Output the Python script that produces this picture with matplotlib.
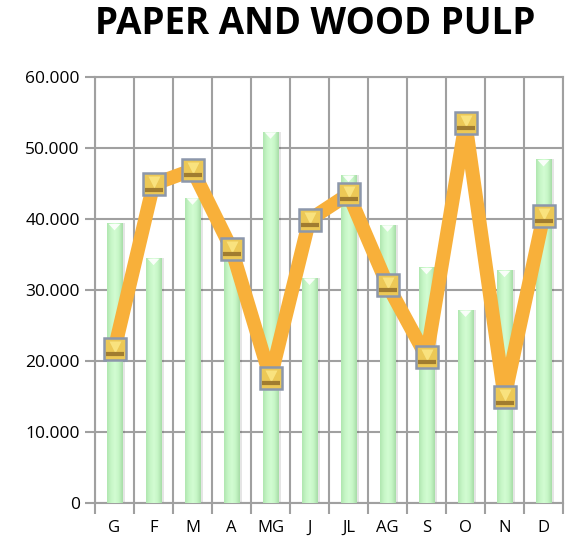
import numpy as np
import matplotlib
matplotlib.use("Agg")
import matplotlib.pyplot as plt
from matplotlib.ticker import FuncFormatter, FixedLocator
from matplotlib.colors import LinearSegmentedColormap

categories = ["G", "F", "M", "A", "MG", "J", "JL", "AG", "S", "O", "N", "D"]
bar_values = [39.4, 34.5, 43.0, 35.0, 52.3, 31.7, 46.2, 39.2, 33.2, 27.2, 32.8, 48.4]
line_values = [21.7, 44.9, 46.9, 35.8, 17.6, 39.9, 43.5, 30.7, 20.6, 53.5, 14.9, 40.4]
y_ticks = [0, 10, 20, 30, 40, 50, 60]

plt.rcParams['font.family'] = ['Open Sans', 'DejaVu Sans']

fig = plt.figure(figsize=(5.68, 5.42), dpi=100)
ax = fig.add_axes([95/568, 39/542, 468/568, 426/542])

x = np.arange(len(categories))
grid_c = "#a0a0a0"

# shadows
ax.bar(x + 0.07, bar_values, width=0.42, color="#000000", alpha=0.10, zorder=2)
bars = ax.bar(x, bar_values, width=0.40, color="#c8f7c8", edgecolor="#a8d8a8",
              linewidth=0.6, zorder=3)
cmap = LinearSegmentedColormap.from_list("g", ["#b0e6b0", "#c6f6c6", "#d2fcd2", "#c6f6c6", "#a6dca6"])
grad = np.linspace(0, 1, 64).reshape(1, -1)
for b in bars:
    x0, w, h = b.get_x(), b.get_width(), b.get_height()
    im = ax.imshow(grad, extent=[x0, x0 + w, 0, h], aspect="auto", cmap=cmap,
                   zorder=3.5, interpolation="bicubic")
    im.set_clip_path(b)
    ax.fill([x0 + 0.05, x0 + w - 0.05, x0 + w / 2], [h - 0.1, h - 0.1, h - 1.0],
            color="white", alpha=0.9, zorder=3.6, linewidth=0)

ax.plot(x, line_values, color="#f8b03a", linewidth=10, solid_joinstyle="round",
        solid_capstyle="round", zorder=4)
ax.plot(x, line_values, linestyle="none", marker="s", markersize=16,
        markerfacecolor="#ecc856", markeredgecolor="#8c97ab", markeredgewidth=1.8, zorder=5)
ax.plot(x, np.array(line_values) + 0.25, linestyle="none", marker="v", markersize=9,
        markerfacecolor="#f9e27e", markeredgecolor="none", zorder=6)
ax.plot(x, np.array(line_values) - 0.75, linestyle="none", marker="_", markersize=13,
        markeredgecolor="#a07c30", markeredgewidth=3, zorder=6)

ax.set_xlim(-0.5, len(categories) - 0.5)
ax.set_ylim(0, 60)
ax.yaxis.set_major_locator(FixedLocator(y_ticks))
ax.yaxis.set_major_formatter(FuncFormatter(lambda v, p: "0" if v == 0 else f"{int(v)}.000"))
ax.set_xticks(x)
ax.set_xticklabels(categories)
ax.set_xticks(np.arange(-0.5, len(categories)), minor=True)
ax.tick_params(axis="x", which="major", length=0, pad=12, labelsize=12)
ax.tick_params(axis="x", which="minor", length=8, color=grid_c, width=1.5)
ax.tick_params(axis="y", length=7, color=grid_c, width=1.5, labelsize=12.5, pad=4)
ax.grid(True, which="minor", axis="x", color=grid_c, linewidth=1.5, zorder=0)
ax.grid(True, which="major", axis="y", color=grid_c, linewidth=1.5, zorder=0)
ax.set_axisbelow(True)
for s in ax.spines.values():
    s.set_color(grid_c)
    s.set_linewidth(1.5)

fig.text(315/568, 1 - 24/542, "PAPER AND WOOD PULP", ha="center", va="center",
         fontsize=26.5, fontweight="bold")

fig.savefig("out.png", dpi=100)
